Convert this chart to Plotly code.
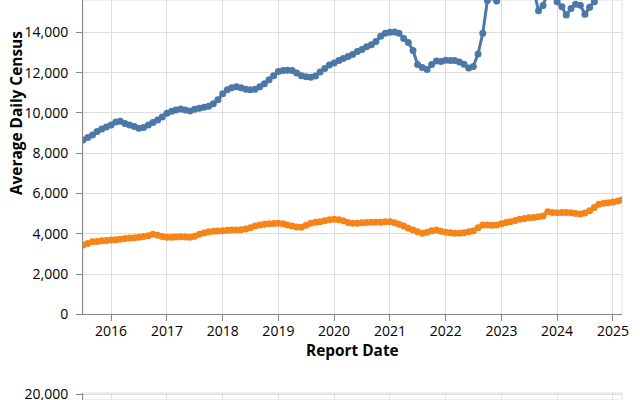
import pandas as pd
import plotly.graph_objects as go

# Monthly report dates, Jul 2015 .. Mar 2025
report_dates = pd.date_range("2015-07-01", "2025-03-01", freq="MS")

series_a = [  # blue
    8650, 8780, 8900, 9080, 9200, 9300,
    9400, 9550, 9580, 9480, 9400, 9320, 9240, 9280, 9400, 9520, 9650, 9800,
    9980, 10080, 10150, 10190, 10150, 10100, 10180, 10230, 10280, 10330, 10450, 10650,
    10950, 11150, 11250, 11300, 11250, 11180, 11150, 11180, 11300, 11450, 11650, 11850,
    12050, 12100, 12120, 12100, 11980, 11850, 11800, 11770, 11830, 12030, 12200, 12380,
    12480, 12600, 12700, 12800, 12900, 13050, 13150, 13280, 13380, 13550, 13800, 13950,
    14000, 14020, 13950, 13700, 13500, 13100, 12400, 12250, 12150, 12400, 12580, 12550,
    12620, 12600, 12600, 12530, 12420, 12230, 12300, 12930, 13950, 15580, 15750, 15560,
    16300, 16900, 17300, 17500, 17200, 16900, 16500, 16100, 15070, 15330, 16000, 16200,
    15520, 15270, 14860, 15190, 15400, 15350, 14900, 15240, 15520, 15900, 16100, 16300,
    16400, 16500, 16600,
]

series_b = [  # orange
    3440, 3520, 3600, 3620, 3650, 3670,
    3690, 3700, 3730, 3760, 3790, 3800, 3830, 3860, 3900, 3980, 3930, 3860,
    3820, 3830, 3840, 3850, 3840, 3820, 3880, 3980, 4040, 4100, 4120, 4140,
    4150, 4170, 4180, 4190, 4200, 4230, 4300, 4380, 4430, 4470, 4490, 4510,
    4520, 4500, 4440, 4380, 4340, 4320, 4420, 4520, 4570, 4600, 4650, 4700,
    4720, 4690, 4650, 4560, 4520, 4520, 4550, 4560, 4570, 4570, 4570, 4590,
    4600, 4550, 4470, 4380, 4270, 4180, 4100, 4020, 4080, 4150, 4190, 4120,
    4070, 4050, 4030, 4020, 4050, 4100, 4150, 4300, 4430, 4440, 4420, 4430,
    4500, 4560, 4600, 4660, 4720, 4760, 4790, 4810, 4840, 4880, 5090, 5060,
    5040, 5050, 5060, 5040, 5010, 4980, 5030, 5140, 5300, 5470, 5510, 5540,
    5580, 5620, 5670,
]

y_title = "Average Daily Census"
x_title = "Report Date"

FONT = "Open Sans"
BLUE = "#4c78a8"
ORANGE = "#f58518"
GRID = "#dddddd"
AXIS = "#888888"

fig = go.Figure()
fig.add_trace(go.Scatter(x=report_dates, y=series_a, mode="lines+markers",
                         line=dict(color=BLUE, width=3), marker=dict(color=BLUE, size=7),
                         xaxis="x", yaxis="y", showlegend=False))
fig.add_trace(go.Scatter(x=report_dates, y=series_b, mode="lines+markers",
                         line=dict(color=ORANGE, width=3), marker=dict(color=ORANGE, size=7),
                         xaxis="x", yaxis="y", showlegend=False))
# empty trace to show the second (lower) panel's axes
fig.add_trace(go.Scatter(x=[report_dates[0]], y=[None], mode="lines",
                         xaxis="x2", yaxis="y2", showlegend=False, hoverinfo="skip"))

x_range = [report_dates[0], report_dates[-1]]
tickfont = dict(family=FONT, size=14, color="#000")

common_x = dict(type="date", range=x_range, tick0="2016-01-01", dtick="M12",
                tickformat="%Y", showgrid=True, gridcolor=GRID, gridwidth=1,
                zeroline=False, tickfont=tickfont, automargin=False)

fig.update_layout(
    template="none",
    width=640, height=400,
    margin=dict(l=83, r=18, t=0, b=0, pad=0, autoexpand=False),
    paper_bgcolor="white", plot_bgcolor="white",
    font=dict(family=FONT, color="#000"),
    xaxis=dict(**common_x, domain=[0, 1], anchor="y", ticks="outside", ticklen=6,
               tickcolor=AXIS, showline=True, linecolor=AXIS, linewidth=1,
               ticklabelstandoff=-2),
    yaxis=dict(domain=[1 - 314.3 / 400, 1], range=[0, 15606], dtick=2000,
               tickformat=",", ticks="outside", ticklen=6, tickcolor=AXIS,
               showline=True, linecolor=AXIS, linewidth=1, showgrid=True,
               gridcolor=GRID, zeroline=False, tickfont=tickfont, ticklabelstandoff=5,
               automargin=False),
    xaxis2=dict(**common_x, domain=[0, 1], anchor="y2", matches="x",
                showticklabels=False, ticks="", showline=False),
    yaxis2=dict(domain=[0, 7 / 400], range=[19717, 20065], tickvals=[20000],
                tickformat=",", ticks="outside", ticklen=6, tickcolor=AXIS,
                showline=True, linecolor=AXIS, linewidth=1, showgrid=True,
                gridcolor=GRID, zeroline=False, tickfont=tickfont, ticklabelstandoff=5,
                ticklabeloverflow="allow", automargin=False),
    shapes=[
        dict(type="rect", xref="x domain", yref="y domain", x0=0, x1=1, y0=0, y1=1,
             line=dict(color=GRID, width=1), layer="below"),
        dict(type="rect", xref="x2 domain", yref="y2 domain", x0=0, x1=1, y0=0, y1=1,
             line=dict(color=GRID, width=1), layer="below"),
    ],
    annotations=[
        dict(text=y_title, xref="paper", yref="paper", x=(17 - 83) / 539, y=1 - 113 / 400,
             xanchor="center", yanchor="middle", textangle=-90, showarrow=False,
             font=dict(family=FONT, size=15.4, color="#000", weight="bold")),
        dict(text=x_title, xref="paper", yref="paper", x=0.5, y=1 - 350.7 / 400,
             xanchor="center", yanchor="middle", showarrow=False,
             font=dict(family=FONT, size=15.4, color="#000", weight="bold")),
    ],
)

fig.write_html("out.html", config={"displayModeBar": False},
               post_script="document.body.style.margin='0';")
